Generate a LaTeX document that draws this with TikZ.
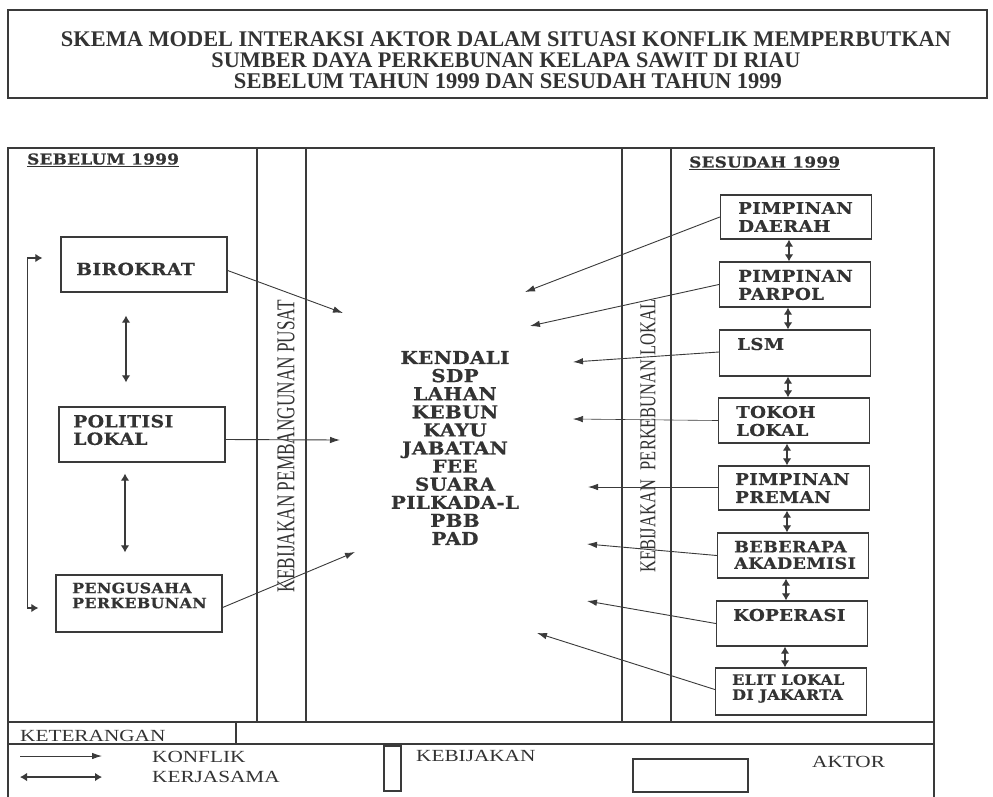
\documentclass[tikz,border=0pt]{standalone}
\usepackage{fontspec}
\setmainfont{Liberation Serif}
\newfontfamily\boxfont[FakeStretch=1.12,LetterSpace=2,FakeBold=0.6]{DejaVu Serif}
\newfontfamily\legfont[FakeStretch=1.25]{Liberation Serif}
\usetikzlibrary{arrows.meta,calc}
\definecolor{ink}{HTML}{3A3A3A}
\definecolor{txt}{HTML}{333333}
\begin{document}
\begin{tikzpicture}[x=1pt,y=-1pt,
  frame/.style={draw=ink,line width=1.2pt},
  actor/.style={draw=ink,line width=1.3pt,inner sep=0pt,minimum width=#1},
  actor/.default=151,
  lbl/.style={anchor=west,inner sep=0pt,align=left,text=txt,font=\boxfont\bfseries\fontsize{16.3}{18}\selectfont},
  lblsmall/.style={lbl,font=\boxfont\bfseries\fontsize{14.2}{15}\selectfont},
  head/.style={anchor=west,inner sep=0pt,text=txt,font=\boxfont\bfseries\fontsize{15}{16}\selectfont},
  vtext/.style={rotate=90,inner sep=0pt,text=txt,font=\fontsize{20}{22}\selectfont},
  legtext/.style={anchor=west,inner sep=0pt,text=txt,font=\legfont\fontsize{17}{20}\selectfont},
  titletext/.style={inner sep=0pt,text=txt,font=\bfseries\fontsize{20}{24}\selectfont},
  konf/.style={draw=ink,line width=0.9pt,-{Latex[length=10pt,width=6.5pt]}},
  kerja/.style={draw=ink,line width=1.1pt,{Latex[length=7pt,width=8.5pt]}-{Latex[length=7pt,width=8.5pt]}}
]
\fill[white] (0,0) rectangle (993,796);
\useasboundingbox (0,0) rectangle (993,796);

% title
\node[draw=ink,line width=1.2pt,minimum width=979,minimum height=88,inner sep=0pt] (titlebox) at (497.5,54) {};
\node[titletext] (t1) at (506,39) {\resizebox{890pt}{!}{SKEMA MODEL INTERAKSI AKTOR DALAM SITUASI KONFLIK MEMPERBUTKAN}};
\node[titletext] (t2) at (506,60) {\resizebox{589pt}{!}{SUMBER DAYA PERKEBUNAN KELAPA SAWIT DI RIAU}};
\node[titletext] (t3) at (508,81) {\resizebox{548pt}{!}{SEBELUM TAHUN 1999 DAN SESUDAH TAHUN 1999}};

% main frame and bands
\draw[frame] (8,148) rectangle (934,722);
\draw[frame] (8,722) -- (8,800);
\draw[frame] (934,722) -- (934,800);
\draw[frame] (8,744) -- (934,744);
\draw[frame] (236,722) -- (236,744);
\draw[frame] (257,148) -- (257,722);
\draw[frame] (306,148) -- (306,722);
\draw[frame] (622,148) -- (622,722);
\draw[frame] (671,148) -- (671,722);

\node[vtext] (band1) at (286,446) {\resizebox{292pt}{17pt}{KEBIJAKAN PEMBANGUNAN PUSAT}};
\node[vtext] (band2) at (648,436) {\resizebox{273pt}{15pt}{KEBIJAKAN\hspace{0.6em}PERKEBUNAN LOKAL}};

% headers
\node[head] (hbef) at (27,160) {\underline{SEBELUM 1999}};
\node[head] (haft) at (689,163) {\underline{SESUDAH 1999}};

% left actors
\node[actor=166,minimum height=55] (bir) at (144,264.5) {};
\node[lbl,font=\boxfont\bfseries\fontsize{16.8}{18}\selectfont] (birT) at (76,269) {BIROKRAT};
\node[actor=166,minimum height=55] (pol) at (142,434.5) {};
\node[lbl,font=\boxfont\bfseries\fontsize{16.8}{17.5}\selectfont] (polT) at (73,430) {POLITISI\\LOKAL};
\node[actor=166,minimum height=57] (peng) at (139,603.5) {};
\node[lblsmall] (pengT) at (72,595.5) {PENGUSAHA\\PERKEBUNAN};

% right actors
\node[actor,minimum height=44] (dae) at (796,217) {};
\node[lbl] (daeT) at (738,217) {PIMPINAN\\DAERAH};
\node[actor,minimum height=45] (par) at (795,284.5) {};
\node[lbl] (parT) at (738,285) {PIMPINAN\\PARPOL};
\node[actor,minimum height=46] (lsm) at (795,353) {};
\node[lbl] (lsmT) at (737,344) {LSM};
\node[actor,minimum height=45] (tok) at (794,420.5) {};
\node[lbl] (tokT) at (736,421) {TOKOH\\LOKAL};
\node[actor,minimum height=44] (pre) at (794,488) {};
\node[lbl] (preT) at (735,488) {PIMPINAN\\PREMAN};
\node[actor,minimum height=45] (aka) at (793,555.5) {};
\node[lbl,font=\boxfont\bfseries\fontsize{15.7}{16.5}\selectfont] (akaT) at (734,555) {BEBERAPA\\AKADEMISI};
\node[actor,minimum height=45] (kop) at (792,623.5) {};
\node[lbl] (kopT) at (733,615) {KOPERASI};
\node[actor,minimum height=47] (eli) at (791,691.5) {};
\node[lblsmall] (eliT) at (732,688.5) {ELIT LOKAL\\DI JAKARTA};

% centre resources
\node[inner sep=0pt,align=center,text=txt,font=\boxfont\bfseries\fontsize{17.8}{18.1}\selectfont] (res) at (455,448)
  {KENDALI\\SDP\\LAHAN\\KEBUN\\KAYU\\JABATAN\\FEE\\SUARA\\PILKADA-L\\PBB\\PAD};

% cooperation arrows
\draw[kerja,shorten <=23pt,shorten >=24pt] ([xshift=-18pt]bir.south) -- ([xshift=-18pt]bir.south |- pol.north);
\draw[kerja,shorten <=11pt,shorten >=22pt] ([xshift=-17pt]pol.south) -- ([xshift=-17pt]pol.south |- peng.north);
\draw[kerja] ($(bir.west)+(-18,-6.5)$) -- ++(-15,0) |- ($(peng.west)+(-17,4.5)$);
\draw[kerja] ([xshift=-7pt]dae.south) -- ([xshift=-7pt]dae.south |- par.north);
\draw[kerja] ([xshift=-7pt]par.south) -- ([xshift=-7pt]par.south |- lsm.north);
\draw[kerja] ([xshift=-7pt]lsm.south) -- ([xshift=-7pt]lsm.south |- tok.north);
\draw[kerja] ([xshift=-7pt]tok.south) -- ([xshift=-7pt]tok.south |- pre.north);
\draw[kerja] ([xshift=-7pt]pre.south) -- ([xshift=-7pt]pre.south |- aka.north);
\draw[kerja] ([xshift=-7pt]aka.south) -- ([xshift=-7pt]aka.south |- kop.north);
\draw[kerja] ([xshift=-7pt]kop.south) -- ([xshift=-7pt]kop.south |- eli.north);

% conflict arrows
\coordinate (tbir) at (343,313);
\coordinate (tpol) at (340,440);
\coordinate (tpeng) at (355,552);
\coordinate (tdae) at (525,292);
\coordinate (tpar) at (530,326);
\coordinate (tlsm) at (573,362);
\coordinate (ttok) at (573,419);
\coordinate (tpre) at (588,487);
\coordinate (taka) at (587,544);
\coordinate (tkop) at (587,601);
\coordinate (teli) at (537,633);
\draw[konf] ($(bir.east)+(0,6)$) -- (tbir);
\draw[konf] ($(pol.east)+(0,5)$) -- (tpol);
\draw[konf] ($(peng.east)+(0,4)$) -- (tpeng);
\draw[konf] (dae.west) -- (tdae);
\draw[konf] (par.west) -- (tpar);
\draw[konf] ($(lsm.west)+(0,-1)$) -- (tlsm);
\draw[konf,line width=0.6pt] (tok.west) -- (ttok);
\draw[konf] ($(pre.west)+(0,-1)$) -- (tpre);
\draw[konf] (aka.west) -- (taka);
\draw[konf] (kop.west) -- (tkop);
\draw[konf] ($(eli.west)+(0,-2)$) -- (teli);

% legend
\node[legtext] (ket) at (20,736) {KETERANGAN};
\coordinate (lk1) at (20,756);
\coordinate (lk2) at (102,756);
\coordinate (lc1) at (20,777);
\coordinate (lc2) at (102,777);
\draw[konf] (lk1) -- (lk2);
\draw[kerja] (lc1) -- (lc2);
\node[legtext] (lkonf) at (152,757) {KONFLIK};
\node[legtext] (lkerj) at (152,777) {KERJASAMA};
\node[draw=ink,line width=1.1pt,inner sep=0pt,minimum width=17,minimum height=45] (lpol) at (392.5,768.5) {};
\node[legtext] (lpolT) at (416,756) {KEBIJAKAN};
\node[draw=ink,line width=1.1pt,inner sep=0pt,minimum width=115,minimum height=33] (lact) at (690.5,775.5) {};
\node[legtext] (lactT) at (812,762) {AKTOR};
\end{tikzpicture}
\end{document}
